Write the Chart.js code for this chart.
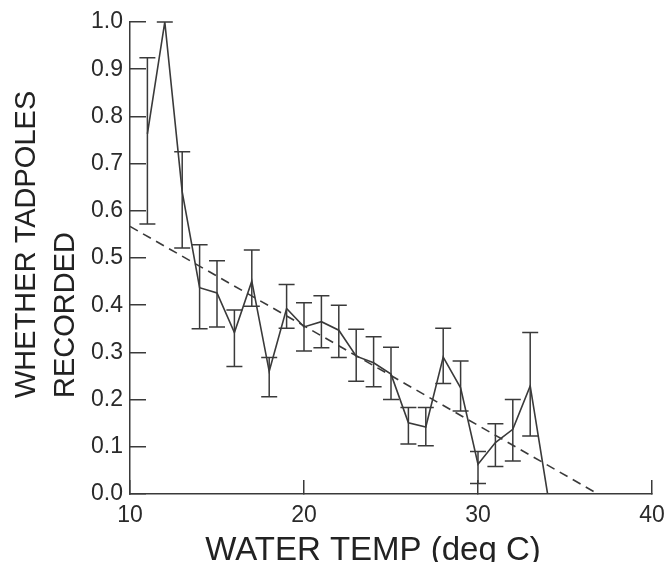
<!DOCTYPE html>
<html><head><meta charset="utf-8">
<script src="https://cdn.jsdelivr.net/npm/chart.js@4/dist/chart.umd.min.js"></script>
<style>html,body{margin:0;padding:0;background:#fff}#wrap{width:671px;height:562px}</style>
</head><body><div id="wrap"><canvas id="c" width="671" height="562"></canvas></div>
<script>
const temps = [11,12,13,14,15,16,17,18,19,20,21,22,23,24,25,26,27,28,29,30,31,32,33,34];
const means = [0.763,1.0,0.64,0.437,0.426,0.342,0.451,0.26,0.393,0.354,0.365,0.347,0.292,0.278,0.254,0.151,0.142,0.29,0.225,0.063,0.109,0.137,0.229,0.0];
const upper = [0.924,1.0,0.725,0.528,0.494,0.39,0.517,0.289,0.444,0.405,0.42,0.40,0.349,0.333,0.311,0.183,0.183,0.351,0.282,0.09,0.149,0.2,0.342,null];
const lower = [0.572,1.0,0.521,0.35,0.354,0.27,0.398,0.206,0.351,0.303,0.31,0.289,0.239,0.227,0.2,0.106,0.102,0.234,0.176,0.022,0.058,0.07,0.123,null];
const fitX = [10, 36.9];
const fitY = [0.567, 0];
const xTicks = [10,20,30,40];
const yTicks = [0,0.1,0.2,0.3,0.4,0.5,0.6,0.7,0.8,0.9,1.0];
const xTitle = 'WATER TEMP (deg C)';
const yTitle = ['WHETHER TADPOLES','RECORDED'];

const ink = '#3a3a3a';
const FONT = 'Liberation Sans, Arial, sans-serif';

const errorBars = {
  id: 'errorBars',
  afterDatasetsDraw(chart) {
    const {ctx, scales: {x, y}} = chart;
    ctx.save();
    ctx.strokeStyle = ink;
    ctx.lineWidth = 1.5;
    const cap = 8;
    temps.forEach((t, i) => {
      if (upper[i] == null || lower[i] == null) return;
      const px = x.getPixelForValue(t);
      const pu = y.getPixelForValue(upper[i]);
      const pl = y.getPixelForValue(lower[i]);
      ctx.beginPath();
      ctx.moveTo(px, pu); ctx.lineTo(px, pl);
      ctx.moveTo(px - cap, pu); ctx.lineTo(px + cap, pu);
      ctx.moveTo(px - cap, pl); ctx.lineTo(px + cap, pl);
      ctx.stroke();
    });
    ctx.restore();
  }
};

const axisTitles = {
  id: 'axisTitles',
  afterDraw(chart) {
    const {ctx} = chart;
    ctx.save();
    ctx.fillStyle = '#222';
    ctx.font = '33px ' + FONT;
    ctx.textAlign = 'center';
    ctx.textBaseline = 'alphabetic';
    ctx.fillText(xTitle, 373, 560);
    ctx.font = '29px ' + FONT;
    ctx.textAlign = 'left';
    ctx.translate(0, 398);
    ctx.rotate(-Math.PI / 2);
    ctx.fillText(yTitle[0], 0, 35);
    ctx.fillText(yTitle[1], 0, 74);
    ctx.restore();
  }
};

new Chart(document.getElementById('c'), {
  type: 'line',
  data: {
    datasets: [
      {
        data: temps.map((t, i) => ({x: t, y: means[i]})),
        borderColor: ink, borderWidth: 1.6, pointRadius: 0, tension: 0, fill: false
      },
      {
        data: fitX.map((t, i) => ({x: t, y: fitY[i]})),
        borderColor: ink, borderWidth: 1.6, borderDash: [9, 6], pointRadius: 0, tension: 0, fill: false
      }
    ]
  },
  options: {
    responsive: false,
    animation: false,
    devicePixelRatio: 1,
    layout: {padding: {top: 22, right: 19, left: 0, bottom: 0}},
    plugins: {legend: {display: false}, tooltip: {enabled: false}, title: {display: false}},
    scales: {
      x: {
        type: 'linear', min: 10, max: 40,
        afterBuildTicks: s => { s.ticks = xTicks.map(v => ({value: v})); },
        afterFit: s => { s.height = 68; s.paddingLeft = 0; s.paddingRight = 0; s.paddingTop = 0; s.paddingBottom = 0; },
        ticks: {font: {size: 23, family: FONT}, color: '#2a2a2a', padding: 22, maxRotation: 0, autoSkip: false,
                callback: v => String(v)},
        grid: {drawOnChartArea: false, tickLength: -14, color: ink, lineWidth: 1.5},
        border: {display: true, color: ink, width: 1.5}
      },
      y: {
        type: 'linear', min: 0, max: 1,
        afterBuildTicks: s => { s.ticks = yTicks.map(v => ({value: v})); },
        afterFit: s => { s.width = 130; s.paddingLeft = 0; s.paddingRight = 0; s.paddingTop = 0; s.paddingBottom = 0; },
        ticks: {font: {size: 23, family: FONT}, color: '#2a2a2a', padding: 23, autoSkip: false,
                callback: v => Number(v).toFixed(1)},
        grid: {drawOnChartArea: false, tickLength: -16, color: ink, lineWidth: 1.5},
        border: {display: true, color: ink, width: 1.5}
      }
    }
  },
  plugins: [errorBars, axisTitles]
});
</script></body></html>
